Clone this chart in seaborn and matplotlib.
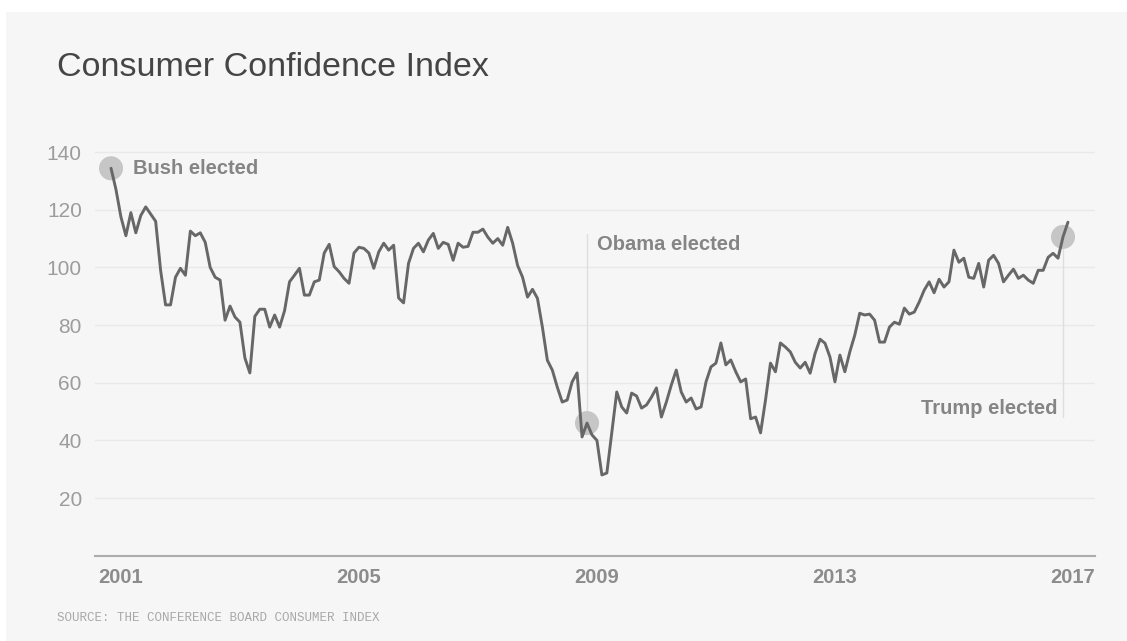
import numpy as np
import pandas as pd
import matplotlib
matplotlib.use("Agg")
import matplotlib.pyplot as plt
import seaborn as sns
from matplotlib.patches import Rectangle

# ---------------- data ----------------
start_month = "2000-11"
cci_values = [
    134.4, 127.0,                                                             # 2000 Nov-Dec
    117.5, 111.0, 119.0, 112.0, 118.0, 121.0, 118.5, 116.0, 99.0, 87.0, 87.0, 96.6,    # 2001
    99.7, 97.3, 112.6, 111.0, 112.0, 108.7, 100.0, 96.6, 95.6, 81.7, 86.6, 82.8,       # 2002
    81.0, 68.6, 63.4, 83.0, 85.5, 85.5, 79.3, 83.5, 79.3, 85.0, 95.0, 97.3,            # 2003
    99.7, 90.4, 90.4, 95.0, 95.6, 105.0, 108.0, 100.3, 98.5, 96.2, 94.5, 105.0,        # 2004
    107.0, 106.6, 105.0, 99.7, 105.4, 108.4, 106.0, 107.7, 89.4, 87.7, 101.4, 106.6,   # 2005
    108.4, 105.4, 109.5, 111.8, 106.6, 108.7, 108.0, 102.5, 108.4, 107.0, 107.3, 112.2,  # 2006
    112.2, 113.3, 110.5, 108.4, 110.0, 107.7, 113.9, 108.4, 100.7, 96.6, 89.7, 92.4,   # 2007
    89.3, 79.3, 67.8, 64.4, 58.5, 53.3, 54.0, 60.3, 63.4, 41.2, 46.0, 41.9,            # 2008
    40.0, 28.0, 28.7, 42.6, 56.8, 51.6, 49.5, 56.4, 55.4, 51.2, 52.3, 55.0,            # 2009
    58.2, 48.1, 53.3, 59.2, 64.4, 56.8, 53.3, 54.7, 50.9, 51.6, 60.3, 65.5,            # 2010
    66.8, 73.8, 66.2, 67.9, 63.8, 60.3, 61.3, 47.5, 48.1, 42.6, 54.0, 66.8,            # 2011
    63.8, 73.8, 72.4, 70.7, 67.1, 65.1, 67.1, 63.3, 70.2, 75.1, 73.7, 68.9,            # 2012
    60.3, 69.6, 63.8, 70.7, 76.5, 84.1, 83.5, 83.8, 81.7, 74.1, 74.1, 79.3,            # 2013
    81.0, 80.3, 85.9, 83.8, 84.5, 88.0, 92.1, 95.0, 91.2, 95.9, 93.2, 95.0,            # 2014
    106.0, 101.8, 103.2, 96.6, 96.2, 101.4, 93.2, 102.5, 104.2, 101.4, 95.0, 97.3,     # 2015
    99.4, 96.2, 97.3, 95.6, 94.5, 99.0, 99.0, 103.5, 104.9, 103.2, 110.6, 115.7,       # 2016
]
election_months = ["2000-11", "2008-11", "2016-11"]
election_labels = ["Bush elected", "Obama elected", "Trump elected"]
year_ticks = [2001, 2005, 2009, 2013, 2017]
y_ticks = [20, 40, 60, 80, 100, 120, 140]
title_text = "Consumer Confidence Index"
source_text = "SOURCE: THE CONFERENCE BOARD CONSUMER INDEX"

periods = pd.period_range(start_month, periods=len(cci_values), freq="M")
df = pd.DataFrame({
    "month": periods.astype(str),
    "t": periods.year + (periods.month - 1) / 12.0,
    "cci": cci_values,
})

# ---------------- style ----------------
sns.set_theme(style="white")
plt.rcParams["font.family"] = ["Liberation Sans", "DejaVu Sans"]

W, H = 1127, 641
fig = plt.figure(figsize=(W / 100, H / 100), dpi=100, facecolor="white")
fig.add_artist(Rectangle((6 / W, 0), 1 - 6 / W, 1 - 12 / H, transform=fig.transFigure,
                         facecolor="#f6f6f6", edgecolor="none", zorder=-10))

y0_px, top_px = 555.7, 137.7
ax = fig.add_axes([95 / W, (H - y0_px) / H, 1000 / W, (y0_px - top_px) / H])
ax.set_facecolor("none")

px_per_year = 59.5

# grid
for yv in y_ticks:
    ax.axhline(yv, color="#e9e9e9", lw=1, zorder=0)

# election markers / guides
ev = df.set_index("month").loc[election_months]
for (m, row), lab in zip(ev.iterrows(), election_labels):
    ax.scatter([row.t], [row.cci], s=300, color="#c6c6c6", edgecolor="none", zorder=2)

sns.lineplot(data=df, x="t", y="cci", color="#676767", linewidth=2.1, ax=ax, zorder=3)

t_b, v_b = ev.iloc[0].t, ev.iloc[0].cci
ax.text(t_b + 22 / px_per_year, v_b, election_labels[0], fontsize=14.5, fontweight="bold",
        color="#858585", ha="left", va="center")

t_o, v_o = ev.iloc[1].t, ev.iloc[1].cci
ax.plot([t_o, t_o], [v_o + 4, 111.5], color="#dedede", lw=1, zorder=1)
ax.text(t_o + 10 / px_per_year, 107.8, election_labels[1], fontsize=14.5, fontweight="bold",
        color="#858585", ha="left", va="center")

t_t, v_t = ev.iloc[2].t, ev.iloc[2].cci
ax.plot([t_t, t_t], [v_t - 4, 48.0], color="#dedede", lw=1, zorder=1)
ax.text(t_t - 6 / px_per_year, 51.2, election_labels[2], fontsize=14.5, fontweight="bold",
        color="#858585", ha="right", va="center")

# axes
ax.set_xlim(2000.564, 2017.371)
ax.set_ylim(0, 145)
ax.set_xticks(year_ticks)
ax.set_xticklabels([str(y) for y in year_ticks], fontweight="bold")
ax.set_yticks(y_ticks)
ax.set_yticklabels([str(v) for v in y_ticks])
ax.tick_params(axis="x", length=0, pad=9, labelsize=14.5, labelcolor="#8c8c8c")
ax.tick_params(axis="y", length=0, pad=9.5, labelsize=15, labelcolor="#9c9c9c")
ax.set_xlabel("")
ax.set_ylabel("")
for s in ["top", "right", "left"]:
    ax.spines[s].set_visible(False)
ax.spines["bottom"].set_color("#adadad")
ax.spines["bottom"].set_linewidth(1.5)

fig.text(57 / W, 1 - 76 / H, title_text, fontsize=24.5, color="#454545", ha="left", va="baseline")
fig.text(57 / W, 1 - 618 / H, source_text, family=["Liberation Mono", "DejaVu Sans Mono"],
         fontsize=9, color="#a8a8a8", ha="left", va="center")

fig.savefig("out.png", dpi=100, facecolor=fig.get_facecolor())
